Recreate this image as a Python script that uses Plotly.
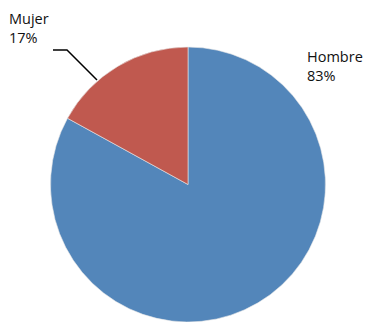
import plotly.graph_objects as go

# Distribución por sexo
labels = ["Hombre", "Mujer"]
values = [83, 17]
colors = ["#5386BA", "#C0594F"]

W, H = 367, 322
total = sum(values)
pct = [f"{round(v * 100 / total)}%" for v in values]

# pie placement in pixels (centre and radius)
cx, cy, r = 188, 185, 138


def px(x):
    return x / W


def py(y):
    return 1 - y / H


fig = go.Figure(
    go.Pie(
        labels=labels,
        values=values,
        sort=False,
        direction="clockwise",
        rotation=0,
        marker=dict(colors=colors, line=dict(color="#E8E8E8", width=0.6)),
        textinfo="none",
        hoverinfo="label+percent",
        showlegend=False,
        domain=dict(x=[px(cx - r), px(cx + r)], y=[max(0, py(cy + r)), py(cy - r)]),
    )
)

font = dict(family="Open Sans, Noto Sans, sans-serif", size=14.5, color="#111111")

# Hombre label (right)
fig.add_annotation(
    x=px(305), y=py(45), xref="paper", yref="paper",
    xanchor="left", yanchor="top", align="left", showarrow=False,
    text=f"{labels[0]}<br>{pct[0]}", font=font,
)
# Mujer label (top-left)
fig.add_annotation(
    x=px(7), y=py(7), xref="paper", yref="paper",
    xanchor="left", yanchor="top", align="left", showarrow=False,
    text=f"{labels[1]}<br>{pct[1]}", font=font,
)

# leader line for Mujer
fig.add_shape(
    type="path", xref="paper", yref="paper",
    path=f"M {px(53)} {py(50)} L {px(67)} {py(50)} L {px(97)} {py(80)}",
    line=dict(color="#000000", width=1.5),
)

fig.update_layout(
    width=W, height=H,
    margin=dict(l=0, r=0, t=0, b=0),
    paper_bgcolor="white",
    plot_bgcolor="white",
)

fig.write_html("out.html")
